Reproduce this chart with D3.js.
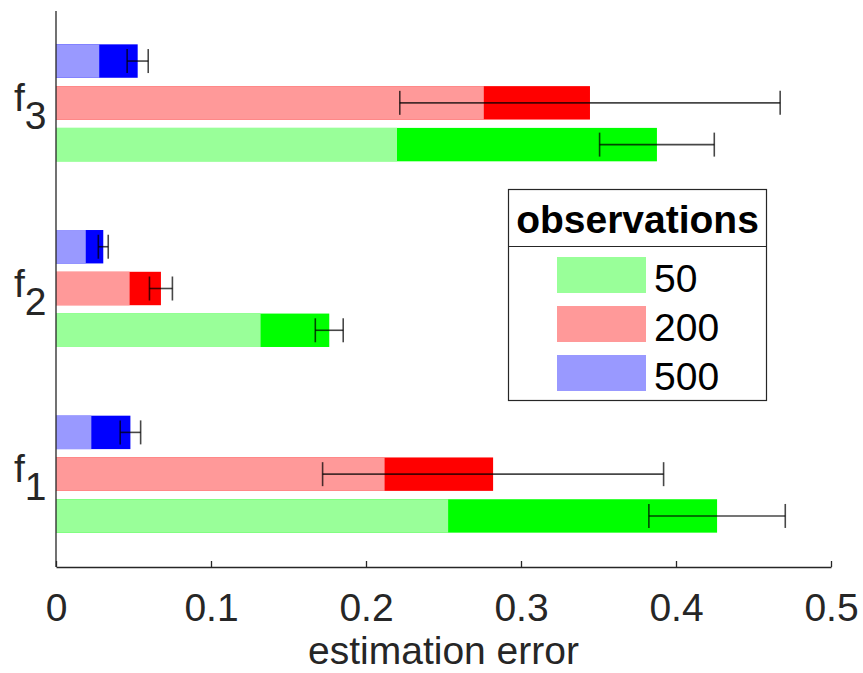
<!doctype html>
<html>

<head>
  <meta charset="utf-8">
  <title>Estimation error</title>
  <script src="https://d3js.org/d3.v7.min.js"></script>
  <style>
    body { margin: 0; background: #fff; }
    text { font-family: "Liberation Sans", Arial, Helvetica, sans-serif; }
  </style>
</head>

<body>
  <div id="my_dataviz"></div>

  <script>

    // functions (bottom to top) and observation counts
    var functions = ["f1", "f2", "f3"];
    var subscripts = ["1", "2", "3"];
    var observations = ["50", "200", "500"];
    var xTicks = [0, 0.1, 0.2, 0.3, 0.4, 0.5];

    // light part of each bar, one row per function, one column per observation count
    var lowValues = [
      [0.253, 0.212, 0.0228],
      [0.132, 0.0475, 0.0192],
      [0.220, 0.276, 0.0279]
    ];
    // full bar length
    var totalValues = [
      [0.4265, 0.282, 0.048],
      [0.1763, 0.0677, 0.0305],
      [0.3877, 0.3445, 0.0527]
    ];
    // half width of the error bar around the bar end
    var errValues = [
      [0.044, 0.110, 0.0066],
      [0.009, 0.0074, 0.0032],
      [0.037, 0.1227, 0.0068]
    ];

    var lightColors = ["#99ff99", "#ff9999", "#9999ff"];
    var darkColors = ["#00ff00", "#ff0000", "#0000ff"];

    var width = 863, height = 673;
    var axisColor = "#262626";
    var fontSize = 39;

    var svg = d3.select("#my_dataviz")
      .append("svg")
      .attr("width", width)
      .attr("height", height);

    // scales
    var x = d3.scaleLinear()
      .domain([0, 0.5])
      .range([56, 831]);

    var y = d3.scaleLinear()
      .domain([0.5, 3.5])
      .range([567, 10]);

    var offsets = [0.225, 0, -0.225];   // 50 lowest, 500 on top
    var barH = 0.18;

    // build flat list of bars
    var bars = [];
    functions.forEach(function (f, i) {
      observations.forEach(function (o, j) {
        bars.push({
          cat: i + 1, series: j,
          low: lowValues[i][j], total: totalValues[i][j], err: errValues[i][j]
        });
      });
    });

    function barTop(d) { return y(d.cat - offsets[d.series] + barH / 2); }
    function barHeight() { return y(0.5) - y(0.5 + barH); }
    function barMid(d) { return y(d.cat - offsets[d.series]); }

    // dark (full) bars
    svg.selectAll(".darkbar")
      .data(bars)
      .enter()
      .append("rect")
      .attr("class", "darkbar")
      .attr("x", x(0))
      .attr("y", barTop)
      .attr("width", function (d) { return x(d.total) - x(0); })
      .attr("height", barHeight)
      .attr("fill", function (d) { return darkColors[d.series]; });

    // light (lower) bars
    svg.selectAll(".lightbar")
      .data(bars)
      .enter()
      .append("rect")
      .attr("class", "lightbar")
      .attr("x", x(0))
      .attr("y", barTop)
      .attr("width", function (d) { return x(d.low) - x(0); })
      .attr("height", barHeight)
      .attr("fill", function (d) { return lightColors[d.series]; });

    // error bars
    var capH = 12;
    var errG = svg.append("g")
      .attr("stroke", "#000")
      .attr("stroke-opacity", 0.72)
      .attr("stroke-width", 1.6)
      .attr("fill", "none");

    bars.forEach(function (d) {
      var ym = barMid(d);
      var x0 = x(d.total - d.err), x1 = x(d.total + d.err);
      errG.append("line")
        .attr("x1", x0).attr("x2", x1).attr("y1", ym).attr("y2", ym);
      errG.append("line")
        .attr("x1", x0).attr("x2", x0).attr("y1", ym - capH).attr("y2", ym + capH);
      errG.append("line")
        .attr("x1", x1).attr("x2", x1).attr("y1", ym - capH).attr("y2", ym + capH);
    });

    // X axis, ticks pointing inward
    var xAxis = svg.append("g")
      .attr("transform", "translate(0," + y(0.5) + ")")
      .call(d3.axisBottom(x).tickValues(xTicks).tickSize(-6).tickSizeOuter(0)
        .tickFormat(function (d) { return d === 0 ? "0" : d3.format(".1f")(d); }));
    xAxis.select(".domain").attr("stroke", axisColor).attr("stroke-width", 1.3);
    xAxis.selectAll(".tick line").attr("stroke", axisColor).attr("stroke-width", 1.3);
    xAxis.selectAll(".tick text")
      .attr("y", 0)
      .attr("dy", 0)
      .attr("transform", "translate(0,54)")
      .attr("fill", axisColor)
      .style("font-size", fontSize + "px")
      .style("font-family", "'Liberation Sans', Arial, sans-serif");

    // Y axis line only
    svg.append("line")
      .attr("x1", x(0)).attr("x2", x(0))
      .attr("y1", y(3.5) + 1).attr("y2", y(0.5))
      .attr("stroke", axisColor)
      .attr("stroke-width", 1.3);

    // category labels f_i with subscript
    functions.forEach(function (f, i) {
      var yc = y(i + 1);
      var t = svg.append("text")
        .attr("x", 14)
        .attr("y", yc + 8)
        .attr("fill", axisColor)
        .style("font-size", fontSize + "px");
      t.append("tspan").text("f");
      t.append("tspan")
        .attr("dy", 18)
        .text(subscripts[i]);
    });

    // x axis label
    svg.append("text")
      .attr("x", (x(0) + x(0.5)) / 2)
      .attr("y", 664)
      .attr("text-anchor", "middle")
      .attr("fill", axisColor)
      .style("font-size", fontSize + "px")
      .text("estimation error");

    // legend
    var lg = svg.append("g");
    lg.append("rect")
      .attr("x", 508.5).attr("y", 189.5)
      .attr("width", 258).attr("height", 211)
      .attr("fill", "#fff")
      .attr("stroke", axisColor)
      .attr("stroke-width", 1.2);
    lg.append("line")
      .attr("x1", 508.5).attr("x2", 766.5)
      .attr("y1", 246.5).attr("y2", 246.5)
      .attr("stroke", axisColor)
      .attr("stroke-width", 1.2);
    lg.append("text")
      .attr("x", 637.5).attr("y", 233)
      .attr("text-anchor", "middle")
      .style("font-size", fontSize + "px")
      .style("font-weight", "bold")
      .text("observations");

    observations.forEach(function (o, j) {
      var yy = 257 + j * 49;
      lg.append("rect")
        .attr("x", 557).attr("y", yy)
        .attr("width", 89).attr("height", 36)
        .attr("fill", lightColors[j]);
      lg.append("text")
        .attr("x", 654).attr("y", yy + 35)
        .style("font-size", fontSize + "px")
        .text(o);
    });

  </script>
</body>

</html>
